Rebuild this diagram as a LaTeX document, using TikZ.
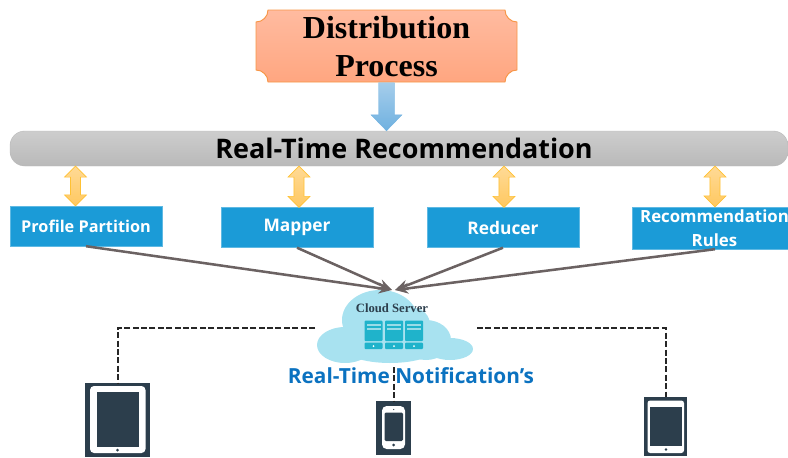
\documentclass[tikz,border=0pt]{standalone}
\usepackage{fontspec}
\usetikzlibrary{calc,arrows.meta}
\newfontfamily\serifb{Liberation Serif Bold}
\newfontfamily\sansb{Open Sans}
\definecolor{boxblue}{HTML}{1B9BD7}
\definecolor{devdark}{HTML}{2C3E4C}
\definecolor{cloudc}{HTML}{A8E2F0}
\definecolor{towerc}{HTML}{1FB3CB}
\definecolor{linkgray}{HTML}{6B6262}
\definecolor{plaquetop}{HTML}{FFBBA0}
\definecolor{plaquebot}{HTML}{FFA680}
\definecolor{plaqueline}{HTML}{F79646}
\definecolor{baytop}{HTML}{CDCDCD}
\definecolor{baybot}{HTML}{B9B9B9}
\definecolor{ytop}{HTML}{FFDA96}
\definecolor{ybot}{HTML}{FFC860}
\definecolor{yline}{HTML}{FFC133}
\definecolor{btop}{HTML}{A5CDEB}
\definecolor{bbot}{HTML}{6FB1E0}
\definecolor{notif}{HTML}{0B72C0}
\tikzset{
  x=0.75pt,y=-0.75pt,
  stagebox/.style={draw=boxblue!70!white,line width=0.3pt,fill=boxblue,minimum width=114pt,minimum height=30pt,inner sep=0pt,align=center,text=white,font=\sansb\bfseries\fontsize{13}{16}\selectfont},
  stagetext/.style={inner sep=0pt,align=center,text=white,font=\sansb\bfseries\fontsize{12.6}{18}\selectfont},
  feed/.style={draw=linkgray,line width=1.9pt,-{Stealth[length=10pt,width=8pt]}},
  dashlink/.style={draw=black!85,line width=1.5pt,dash pattern=on 4.5pt off 1.8pt},
  tower/.style={fill=towerc,rounded corners=0.6pt},
  slot/.style={fill=white,fill opacity=0.55},
  device/.style={fill=devdark,inner sep=0pt},
  yarrow/.style={draw=yline,line width=0.5pt,top color=ytop,bottom color=ybot},
  barrow/.style={draw=bbot,line width=0.3pt,top color=btop,bottom color=bbot},
}
% vertical fat arrow from #1 down to tip #2: half shaft #3, half head #4, head length #5, style #6
\newcommand{\fatdown}[6]{%
  \path[#6] let \p1=(#1),\p2=(#2) in
    (\x1-#3,\y1) -- (\x1+#3,\y1) -- (\x1+#3,\y2+#5) -- (\x1+#4,\y2+#5) -- (\x1,\y2)
    -- (\x1-#4,\y2+#5) -- (\x1-#3,\y2+#5) -- cycle;}
\newcommand{\fatboth}[6]{%
  \path[#6] let \p1=(#1),\p2=(#2) in
    (\x1,\y1) -- (\x1+#4,\y1-#5) -- (\x1+#3,\y1-#5) -- (\x1+#3,\y2+#5) -- (\x1+#4,\y2+#5)
    -- (\x1,\y2) -- (\x1-#4,\y2+#5) -- (\x1-#3,\y2+#5) -- (\x1-#3,\y1-#5) -- (\x1-#4,\y1-#5) -- cycle;}
\begin{document}
\begin{tikzpicture}
\useasboundingbox (0,0) rectangle (788,457);
\clip (0,0) rectangle (788,457);
% ---- top plaque
\draw[draw=plaqueline,line width=0.7pt,top color=plaquetop,bottom color=plaquebot]
 (268,10) -- (505,10) .. controls (505,16.6) and (510.4,22) .. (517,22) -- (517,70)
 .. controls (510.4,70) and (505,75.4) .. (505,82) -- (268,82)
 .. controls (268,75.4) and (262.6,70) .. (256,70) -- (256,22)
 .. controls (262.6,22) and (268,16.6) .. (268,10) -- cycle;
\node[inner sep=0pt,minimum width=195.75pt,minimum height=54pt,align=center,font=\serifb\fontsize{24}{28.6}\selectfont] (dist) at (386.5,46.5) {Distribution\\Process};
% ---- bar
\node[rounded corners=11pt,draw=baybot,line width=0.3pt,top color=baytop,bottom color=baybot,minimum width=583.5pt,minimum height=26.25pt,inner sep=0pt] (bar) at (399,148.5) {};
\node[inner sep=0pt,font=\sansb\bfseries\fontsize{20.2}{24}\selectfont] (bartext) at (404,148.5) {Real-Time Recommendation};
% ---- stages
\node[stagebox,font=\sansb\bfseries\fontsize{12.2}{15}\selectfont] (prof) at (86,226) {Profile Partition};
\node[stagebox] (mapr) at (297,227.5) {Mapper};
\node[stagebox] (redu) at (503,227.5) {Reducer};
\node[stagebox,minimum width=117pt,minimum height=31.5pt] (rule) at (710,228) {};
\node[stagetext] (ruletext) at (714.5,228) {Recommendation\\Rules};
% ---- arrow columns
\coordinate (a1) at (75.5,0);
\coordinate (a2) at (299,0);
\coordinate (a3) at (504,0);
\coordinate (a4) at (715,0);
\fatdown{dist.south}{bar.north}{6pt}{11.6pt}{12pt}{barrow}
\fatboth{bar.south -| a1}{prof.north -| a1}{3.8pt}{8.2pt}{8.2pt}{yarrow}
\fatboth{bar.south -| a2}{mapr.north -| a2}{3.8pt}{8.2pt}{8.2pt}{yarrow}
\fatboth{bar.south -| a3}{redu.north -| a3}{3.8pt}{8.2pt}{8.2pt}{yarrow}
\fatboth{bar.south -| a4}{rule.north -| a4}{3.8pt}{8.2pt}{8.2pt}{yarrow}
% ---- cloud
\fill[cloudc] (380,320) ellipse[x radius=38,y radius=30];
\fill[cloudc] (414,325) ellipse[x radius=16,y radius=17];
\fill[cloudc] (345,345) ellipse[x radius=28,y radius=18];
\fill[cloudc] (426,340) ellipse[x radius=25,y radius=20];
\fill[cloudc] (450,349) ellipse[x radius=23,y radius=11];
\fill[cloudc] (390,345) ellipse[x radius=50,y radius=18];
\node[inner sep=0pt,text=devdark,font=\serifb\fontsize{9.5}{11}\selectfont] (cloudlabel) at (392,308) {Cloud Server};
\foreach \tx in {364.5,385,405}{
  \fill[tower] (\tx,320.7) rectangle (\tx+18,341);
  \fill[tower] (\tx,342.7) rectangle (\tx+18,349);
  \fill[slot] (\tx+2,323.5) rectangle (\tx+16,325.5);
  \fill[slot] (\tx+2,327.5) rectangle (\tx+16,329.5);
  \fill[white] (\tx+9,346) circle[radius=1];
}
\coordinate (cloudtop) at (393,290);
\coordinate (cloudwest) at (315,328);
\coordinate (cloudeast) at (477,328);
\coordinate (cloudsouth) at (394,367);
% ---- feeds
\draw[feed] (prof.south) -- ($(cloudtop)+(-1,0)$);
\draw[feed] (mapr.south) -- ($(cloudtop)+(-1,0)$);
\draw[feed] (redu.south) -- ($(cloudtop)+(2,0)$);
\draw[feed] (rule.south -| a4) -- ($(cloudtop)+(2,0)$);
% ---- notification
\node[inner sep=0pt,text=notif,font=\sansb\bfseries\fontsize{15.6}{19}\selectfont] (notice) at (411,376) {Real-Time Notification’s};
% ---- devices
\node[device,minimum width=48.75pt,minimum height=55.5pt] (tabl) at (117.5,420) {};
\fill[white,rounded corners=3pt] (90,386) rectangle (145.5,453);
\fill[devdark] (96.5,392) rectangle (139,447);
\fill[devdark] (117.5,450) circle[radius=1.5];
\node[device,minimum width=26.25pt,minimum height=40.5pt] (phon) at (393.5,428) {};
\fill[white,rounded corners=3.5pt] (382,406) rectangle (405,449);
\fill[devdark,rounded corners=1pt] (384.5,412.5) rectangle (403,441);
\fill[devdark] (393.7,445) circle[radius=1.5];
\fill[devdark] (393.7,409.5) circle[radius=0.6];
\node[device,minimum width=32.25pt,minimum height=44.25pt] (tabr) at (665.5,426.5) {};
\fill[white,rounded corners=2pt] (647.5,400.5) rectangle (684,453);
\fill[devdark] (650,406.5) rectangle (682,446);
\fill[devdark] (666,449.5) circle[radius=1.4];
% ---- dashed links
\draw[dashlink] (cloudwest) -| (tabl.north);
\draw[dashlink] (cloudeast) -| (tabr.north);
\draw[dashlink] (cloudsouth) -- (cloudsouth |- phon.north);
\end{tikzpicture}
\end{document}
